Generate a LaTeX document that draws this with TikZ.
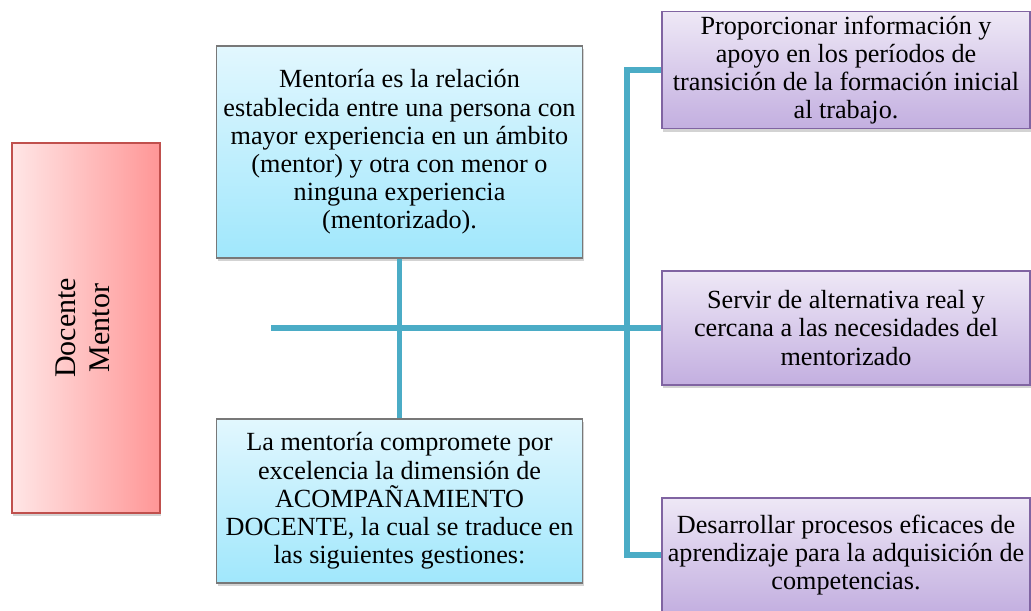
\documentclass[tikz,border=0pt]{standalone}
\usepackage{fontspec}
\setmainfont{Liberation Serif}
\usetikzlibrary{shadows}

\definecolor{linkteal}{RGB}{75,172,198}
\definecolor{roleleft}{RGB}{255,230,230}
\definecolor{roleright}{RGB}{255,150,150}
\definecolor{roleedge}{RGB}{192,80,77}
\definecolor{ideatop}{RGB}{226,247,254}
\definecolor{ideabottom}{RGB}{160,231,252}
\definecolor{ideaedge}{RGB}{120,120,120}
\definecolor{tasktop}{RGB}{238,232,246}
\definecolor{taskbottom}{RGB}{195,175,224}
\definecolor{taskedge}{RGB}{128,100,162}

\begin{document}
\begin{tikzpicture}[
  x=0.5pt, y=-0.5pt,
  box/.style={draw, line width=0.6pt, align=center, inner xsep=0.5pt, inner ysep=2pt,
    font=\fontsize{13.1}{14.1}\selectfont,
    drop shadow={shadow xshift=0.6pt, shadow yshift=-1.6pt, opacity=0.35}},
  rolebox/.style={box, draw=roleedge, left color=roleleft, right color=roleright,
    minimum width=74pt, minimum height=185pt, font=\fontsize{15}{17}\selectfont},
  ideabox/.style={box, draw=ideaedge, top color=ideatop, bottom color=ideabottom, minimum width=183pt},
  taskbox/.style={box, draw=taskedge, top color=tasktop, bottom color=taskbottom,
    minimum width=184pt, minimum height=57pt},
  link/.style={draw=linkteal, line width=2.6pt}
]
\useasboundingbox (0,0) rectangle (1031,610);

\node[rolebox] (docente) at (86,328) {\rotatebox{90}{\begin{tabular}{c}Docente\\Mentor\end{tabular}}};
\node[ideabox, minimum height=106pt] (concepto) at (399.5,152) {Mentoría es la relación\\establecida entre una persona con\\mayor experiencia en un ámbito\\(mentor) y otra con menor o\\ninguna experiencia\\(mentorizado).};
\node[ideabox, minimum height=82pt] (acompana) at (399.5,501) {La mentoría compromete por\\excelencia la dimensión de\\ACOMPAÑAMIENTO\\DOCENTE, la cual se traduce en\\las siguientes gestiones:};
\node[taskbox] (informar) at (846,70) {Proporcionar información y\\apoyo en los períodos de\\transición de la formación inicial\\al trabajo.};
\node[taskbox] (servir) at (846,328) {Servir de alternativa real y\\cercana a las necesidades del\\mentorizado};
\node[taskbox] (desarrollar) at (846,555) {Desarrollar procesos eficaces de\\aprendizaje para la adquisición de\\competencias.};

\coordinate (eje) at (271,328);
\coordinate (tronco) at (627,328);
\draw[link] (concepto.south) -- (acompana.north);
\draw[link] (eje) -- (servir.west);
\draw[link] (informar.west) -| (tronco) |- (desarrollar.west);
\end{tikzpicture}
\end{document}
